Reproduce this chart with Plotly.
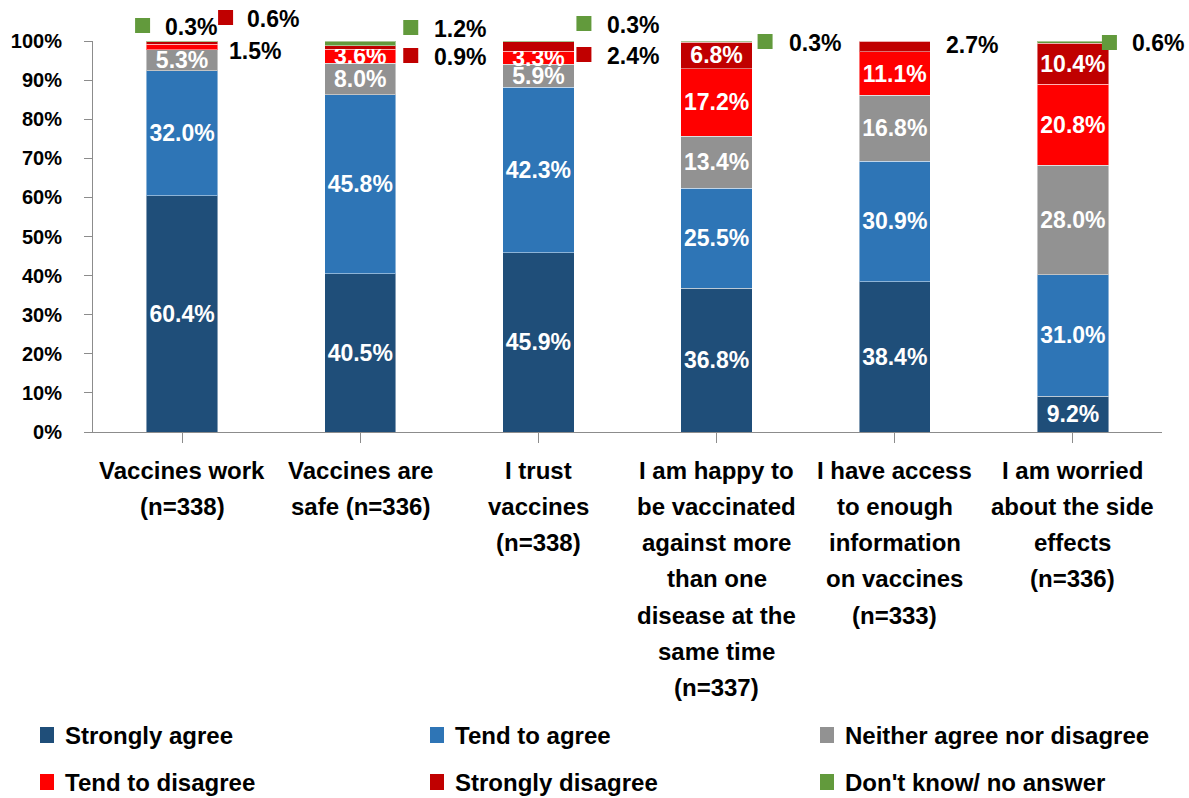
import plotly.graph_objects as go

# survey statements (x categories), one list of lines per label
categories = [
    "Vaccines work (n=338)",
    "Vaccines are safe (n=336)",
    "I trust vaccines (n=338)",
    "I am happy to be vaccinated against more than one disease at the same time (n=337)",
    "I have access to enough information on vaccines (n=333)",
    "I am worried about the side effects (n=336)",
]
category_lines = [
    ["Vaccines work", "(n=338)"],
    ["Vaccines are", "safe (n=336)"],
    ["I trust", "vaccines", "(n=338)"],
    ["I am happy to", "be vaccinated", "against more", "than one", "disease at the", "same time", "(n=337)"],
    ["I have access", "to enough", "information", "on vaccines", "(n=333)"],
    ["I am worried", "about the side", "effects", "(n=336)"],
]

series_names = ["Strongly agree", "Tend to agree", "Neither agree nor disagree",
                "Tend to disagree", "Strongly disagree", "Don't know/ no answer"]
strongly_agree = [60.4, 40.5, 45.9, 36.8, 38.4, 9.2]
tend_to_agree = [32.0, 45.8, 42.3, 25.5, 30.9, 31.0]
neither = [5.3, 8.0, 5.9, 13.4, 16.8, 28.0]
tend_to_disagree = [1.5, 3.6, 3.3, 17.2, 11.1, 20.8]
strongly_disagree = [0.6, 0.9, 2.4, 6.8, 2.7, 10.4]
dont_know = [0.3, 1.2, 0.3, 0.3, 0.0, 0.6]

y_ticks = list(range(0, 101, 10))
y_tick_labels = [f"{t}%" for t in y_ticks]

colors = ["#1F4E79", "#2E75B6", "#929292", "#FF0000", "#C00000", "#629A3C"]
series = [strongly_agree, tend_to_agree, neither, tend_to_disagree, strongly_disagree, dont_know]

# plot area in pixels
L, R, T, B = 93, 1162, 41, 432
W, H = 1189, 798

def xp(px):
    return (px - L) / (R - L)

def yp(py):
    return (B - py) / (B - T)

# labels shown outside the bars: (series index, category index, square dx or None, text dx, text y px, square y px)
outside = [
    (5, 0, -47, -19, 27, 18),
    (4, 0, 36, 63, 19, 10),
    (3, 0, None, 45, 51, None),
    (5, 1, 43, 72, 29, 20),
    (4, 1, 43, 72, 57, 48),
    (5, 2, 38, 67, 25, 16),
    (4, 2, 38, 67, 56, 47),
    (5, 3, 41, 70, 43, 34),
    (4, 4, None, 49, 45, None),
    (5, 5, 29, 57, 43, 35),
]
outside_set = {(s, c) for s, c, *_ in outside}

FONT = "Liberation Sans"
fig = go.Figure()
for si, (name, vals, col) in enumerate(zip(series_names, series, colors)):
    txt = []
    for ci, v in enumerate(vals):
        if (si, ci) in outside_set or v == 0:
            txt.append("")
        else:
            txt.append(f"{v:.1f}%")
    fig.add_trace(go.Bar(
        x=list(range(len(categories))), y=vals, name=name,
        marker_color=col,
        marker_line=dict(color="rgba(255,255,255,0.45)", width=1),
        text=txt, textposition="inside", insidetextanchor="middle",
        constraintext="none",
        textfont=dict(family=FONT, size=23, color="white", weight="bold"),
        showlegend=False,
        hovertext=categories,
    ))

annotations = []
shapes = []
for si, ci, sq_dx, t_dx, t_y, sq_y in outside:
    v = series[si][ci]
    if sq_dx is not None:
        shapes.append(dict(type="rect", xref="x", yref="paper",
                           xsizemode="pixel", xanchor=ci, x0=sq_dx, x1=sq_dx + 15,
                           y0=yp(sq_y + 15), y1=yp(sq_y),
                           fillcolor=colors[si], line_width=0))
    annotations.append(dict(x=ci, xref="x", y=yp(t_y), yref="paper",
                            xanchor="left", yanchor="middle", xshift=t_dx,
                            text=f"{v:.1f}%", showarrow=False,
                            font=dict(family=FONT, size=23, color="black", weight="bold")))

# category labels, line by line
for ci, lines in enumerate(category_lines):
    for li, line in enumerate(lines):
        annotations.append(dict(x=ci, xref="x", y=0, yref="paper",
                                xanchor="center", yanchor="middle",
                                yshift=-(470 - B) - li * 36.3,
                                text=line, showarrow=False,
                                font=dict(family=FONT, size=24, color="black", weight="bold")))

# legend, 3 columns x 2 rows
leg_cols = [40, 430, 820]
leg_rows = [735, 782]
for i, (name, col) in enumerate(zip(series_names, colors)):
    cx = leg_cols[i % 3]
    cy = leg_rows[i // 3]
    shapes.append(dict(type="rect", xref="paper", yref="paper",
                       x0=xp(cx), x1=xp(cx + 14), y0=yp(cy + 8), y1=yp(cy - 8),
                       fillcolor=col, line_width=0))
    annotations.append(dict(x=xp(cx + 23), xref="paper", y=yp(cy), yref="paper",
                            xanchor="left", yanchor="middle", text=name, showarrow=False,
                            font=dict(family=FONT, size=24, color="black", weight="bold")))

fig.update_layout(
    barmode="stack",
    bargap=0.6,
    width=W, height=H,
    margin=dict(l=L, r=W - R, t=T, b=H - B, pad=0),
    paper_bgcolor="white", plot_bgcolor="white",
    showlegend=False,
    annotations=annotations,
    shapes=shapes,
    font=dict(family=FONT),
)
fig.update_xaxes(
    range=[-0.5, len(categories) - 0.5],
    tickmode="array", tickvals=list(range(len(categories))),
    showticklabels=False, tickson="boundaries",
    ticks="outside", ticklen=10, tickcolor="#8C8C8C",
    showline=True, linecolor="#8C8C8C", linewidth=1,
    showgrid=False, zeroline=False,
)
fig.update_yaxes(
    range=[0, 100], tickmode="array", tickvals=y_ticks, ticktext=y_tick_labels,
    ticks="outside", ticklen=8, tickcolor="#8C8C8C",
    showline=True, linecolor="#8C8C8C", linewidth=1,
    showgrid=False, zeroline=False,
    tickfont=dict(family=FONT, size=20, color="black", weight="bold"),
    ticklabelstandoff=18,
)

fig.write_html("out.html", config={"displayModeBar": False},
               post_script="document.body.style.margin='0';")
